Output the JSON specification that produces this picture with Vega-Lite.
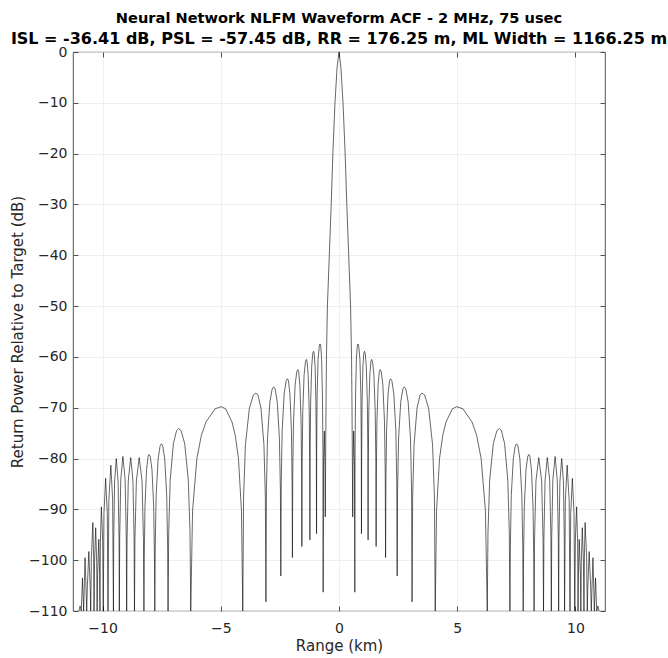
{
  "$schema": "https://vega.github.io/schema/vega-lite/v6.json",
  "width": 532,
  "height": 559,
  "autosize": {"type": "none"},
  "padding": {"left": 73, "top": 52, "right": 63, "bottom": 47},
  "background": "white",
  "title": {
    "text": "Neural Network NLFM Waveform ACF - 2 MHz, 75 usec",
    "subtitle": "ISL = -36.41 dB, PSL = -57.45 dB, RR = 176.25 m, ML Width = 1166.25 m",
    "font": "DejaVu Sans",
    "fontSize": 14.6,
    "fontWeight": "bold",
    "color": "#000000",
    "subtitleFont": "DejaVu Sans",
    "subtitleFontSize": 16,
    "subtitleFontWeight": "bold",
    "subtitleColor": "#000000",
    "subtitlePadding": 5,
    "anchor": "middle",
    "offset": -2
  },
  "config": {
    "font": "DejaVu Sans",
    "view": {"stroke": "#262626", "strokeWidth": 0.8}
  },
  "data": {
    "values": [
      {"r": -11.0, "p": -110}, {"r": -10.95, "p": -109}, {"r": -10.9, "p": -110}, {"r": -10.85, "p": -103.5}, {"r": -10.8, "p": -110},
      {"r": -10.74, "p": -99.5}, {"r": -10.67, "p": -110}, {"r": -10.643, "p": -105.2}, {"r": -10.58, "p": -98.3}, {"r": -10.524, "p": -105.2},
      {"r": -10.5, "p": -110}, {"r": -10.473, "p": -99.5}, {"r": -10.41, "p": -92.6}, {"r": -10.378, "p": -99.5}, {"r": -10.36, "p": -110},
      {"r": -10.339, "p": -100.5}, {"r": -10.29, "p": -93.6}, {"r": -10.248, "p": -100.5}, {"r": -10.23, "p": -110},
      {"r": -10.209, "p": -102.8}, {"r": -10.16, "p": -95.9}, {"r": -10.125, "p": -102.8}, {"r": -10.11, "p": -110},
      {"r": -10.092, "p": -96.4}, {"r": -10.05, "p": -89.5}, {"r": -9.994, "p": -96.4}, {"r": -9.97, "p": -110},
      {"r": -9.94, "p": -90.8}, {"r": -9.87, "p": -83.9}, {"r": -9.8, "p": -90.8}, {"r": -9.77, "p": -110},
      {"r": -9.734, "p": -88.2}, {"r": -9.65, "p": -81.3}, {"r": -9.573, "p": -88.2}, {"r": -9.54, "p": -110},
      {"r": -9.528, "p": -96.1}, {"r": -9.492, "p": -84.6}, {"r": -9.42, "p": -80.0}, {"r": -9.342, "p": -84.6}, {"r": -9.303, "p": -96.1}, {"r": -9.29, "p": -110},
      {"r": -9.275, "p": -95.7}, {"r": -9.23, "p": -84.2}, {"r": -9.14, "p": -79.6}, {"r": -9.044, "p": -84.2}, {"r": -8.996, "p": -95.7}, {"r": -8.98, "p": -110},
      {"r": -8.963, "p": -95.9}, {"r": -8.912, "p": -84.4}, {"r": -8.81, "p": -79.8}, {"r": -8.714, "p": -84.4}, {"r": -8.666, "p": -95.9}, {"r": -8.65, "p": -110},
      {"r": -8.63, "p": -95.9}, {"r": -8.57, "p": -84.4}, {"r": -8.45, "p": -79.8}, {"r": -8.33, "p": -84.4}, {"r": -8.27, "p": -95.9}, {"r": -8.25, "p": -110},
      {"r": -8.237, "p": -99.7}, {"r": -8.206, "p": -89.4}, {"r": -8.14, "p": -82.2}, {"r": -8.074, "p": -79.6}, {"r": -8.03, "p": -79.2}, {"r": -7.982, "p": -79.6}, {"r": -7.91, "p": -82.2}, {"r": -7.838, "p": -89.4}, {"r": -7.804, "p": -99.7}, {"r": -7.79, "p": -110},
      {"r": -7.773, "p": -97.6}, {"r": -7.734, "p": -87.3}, {"r": -7.65, "p": -80.1}, {"r": -7.566, "p": -77.5}, {"r": -7.51, "p": -77.1}, {"r": -7.454, "p": -77.5}, {"r": -7.37, "p": -80.1}, {"r": -7.286, "p": -87.3}, {"r": -7.247, "p": -97.6}, {"r": -7.23, "p": -110},
      {"r": -7.203, "p": -94.6}, {"r": -7.14, "p": -84.3}, {"r": -7.005, "p": -77.1}, {"r": -6.87, "p": -74.5}, {"r": -6.78, "p": -74.1}, {"r": -6.678, "p": -74.5}, {"r": -6.525, "p": -77.1}, {"r": -6.372, "p": -84.3}, {"r": -6.301, "p": -94.6}, {"r": -6.27, "p": -110},
      {"r": -6.193, "p": -90.3}, {"r": -6.012, "p": -80.0}, {"r": -5.819, "p": -75.4}, {"r": -5.625, "p": -72.8}, {"r": -5.238, "p": -70.2}, {"r": -4.98, "p": -69.8}, {"r": -4.798, "p": -70.2}, {"r": -4.525, "p": -72.8}, {"r": -4.389, "p": -75.4}, {"r": -4.252, "p": -80.0}, {"r": -4.125, "p": -90.3}, {"r": -4.07, "p": -110},
      {"r": -4.036, "p": -87.6}, {"r": -3.958, "p": -77.3}, {"r": -3.79, "p": -70.1}, {"r": -3.622, "p": -67.5}, {"r": -3.51, "p": -67.1}, {"r": -3.426, "p": -67.5}, {"r": -3.3, "p": -70.1}, {"r": -3.174, "p": -77.3}, {"r": -3.115, "p": -87.6}, {"r": -3.09, "p": -108.2},
      {"r": -3.07, "p": -86.4}, {"r": -3.024, "p": -76.1}, {"r": -2.925, "p": -68.9}, {"r": -2.826, "p": -66.3}, {"r": -2.76, "p": -65.9}, {"r": -2.7, "p": -66.3}, {"r": -2.61, "p": -68.9}, {"r": -2.52, "p": -76.1}, {"r": -2.478, "p": -86.4}, {"r": -2.46, "p": -103.1},
      {"r": -2.443, "p": -84.8}, {"r": -2.404, "p": -74.5}, {"r": -2.32, "p": -67.3}, {"r": -2.236, "p": -64.7}, {"r": -2.18, "p": -64.3}, {"r": -2.138, "p": -64.7}, {"r": -2.075, "p": -67.3}, {"r": -2.012, "p": -74.5}, {"r": -1.983, "p": -84.8}, {"r": -1.97, "p": -99.5},
      {"r": -1.956, "p": -83.0}, {"r": -1.924, "p": -72.7}, {"r": -1.855, "p": -65.5}, {"r": -1.786, "p": -62.9}, {"r": -1.74, "p": -62.5}, {"r": -1.706, "p": -62.9}, {"r": -1.655, "p": -65.5}, {"r": -1.604, "p": -72.7}, {"r": -1.58, "p": -83.0}, {"r": -1.57, "p": -97.3},
      {"r": -1.559, "p": -81.0}, {"r": -1.532, "p": -70.7}, {"r": -1.475, "p": -63.5}, {"r": -1.418, "p": -60.9}, {"r": -1.38, "p": -60.5}, {"r": -1.35, "p": -60.9}, {"r": -1.305, "p": -63.5}, {"r": -1.26, "p": -70.7}, {"r": -1.239, "p": -81.0}, {"r": -1.23, "p": -96.0},
      {"r": -1.221, "p": -79.4}, {"r": -1.2, "p": -69.1}, {"r": -1.155, "p": -61.9}, {"r": -1.11, "p": -59.3}, {"r": -1.075, "p": -58.9}, {"r": -1.049, "p": -59.3}, {"r": -1.01, "p": -61.9}, {"r": -0.976, "p": -69.1}, {"r": -0.958, "p": -79.4}, {"r": -0.95, "p": -94.8},
      {"r": -0.943, "p": -78.0}, {"r": -0.926, "p": -67.7}, {"r": -0.885, "p": -60.5}, {"r": -0.835, "p": -57.9}, {"r": -0.8, "p": -57.45}, {"r": -0.77, "p": -57.9}, {"r": -0.735, "p": -60.5}, {"r": -0.7, "p": -67.7}, {"r": -0.68, "p": -78.0}, {"r": -0.67, "p": -106.3},
      {"r": -0.655, "p": -81.5}, {"r": -0.62, "p": -74.6}, {"r": -0.594, "p": -81.5}, {"r": -0.58, "p": -91.5},
      {"r": -0.565, "p": -80}, {"r": -0.55, "p": -70}, {"r": -0.53, "p": -60}, {"r": -0.49, "p": -50}, {"r": -0.41, "p": -40}, {"r": -0.33, "p": -30}, {"r": -0.26, "p": -20}, {"r": -0.17, "p": -10}, {"r": -0.08, "p": -3},
      {"r": 0, "p": 0},
      {"r": 0.08, "p": -3}, {"r": 0.17, "p": -10}, {"r": 0.26, "p": -20}, {"r": 0.33, "p": -30}, {"r": 0.41, "p": -40}, {"r": 0.49, "p": -50}, {"r": 0.53, "p": -60}, {"r": 0.55, "p": -70}, {"r": 0.565, "p": -80},
      {"r": 0.58, "p": -91.5}, {"r": 0.594, "p": -81.5}, {"r": 0.62, "p": -74.6}, {"r": 0.655, "p": -81.5},
      {"r": 0.67, "p": -106.3}, {"r": 0.68, "p": -78.0}, {"r": 0.7, "p": -67.7}, {"r": 0.735, "p": -60.5}, {"r": 0.77, "p": -57.9}, {"r": 0.8, "p": -57.45}, {"r": 0.835, "p": -57.9}, {"r": 0.885, "p": -60.5}, {"r": 0.926, "p": -67.7}, {"r": 0.943, "p": -78.0},
      {"r": 0.95, "p": -94.8}, {"r": 0.958, "p": -79.4}, {"r": 0.976, "p": -69.1}, {"r": 1.01, "p": -61.9}, {"r": 1.049, "p": -59.3}, {"r": 1.075, "p": -58.9}, {"r": 1.11, "p": -59.3}, {"r": 1.155, "p": -61.9}, {"r": 1.2, "p": -69.1}, {"r": 1.221, "p": -79.4},
      {"r": 1.23, "p": -96.0}, {"r": 1.239, "p": -81.0}, {"r": 1.26, "p": -70.7}, {"r": 1.305, "p": -63.5}, {"r": 1.35, "p": -60.9}, {"r": 1.38, "p": -60.5}, {"r": 1.418, "p": -60.9}, {"r": 1.475, "p": -63.5}, {"r": 1.532, "p": -70.7}, {"r": 1.559, "p": -81.0},
      {"r": 1.57, "p": -97.3}, {"r": 1.58, "p": -83.0}, {"r": 1.604, "p": -72.7}, {"r": 1.655, "p": -65.5}, {"r": 1.706, "p": -62.9}, {"r": 1.74, "p": -62.5}, {"r": 1.786, "p": -62.9}, {"r": 1.855, "p": -65.5}, {"r": 1.924, "p": -72.7}, {"r": 1.956, "p": -83.0},
      {"r": 1.97, "p": -99.5}, {"r": 1.983, "p": -84.8}, {"r": 2.012, "p": -74.5}, {"r": 2.075, "p": -67.3}, {"r": 2.138, "p": -64.7}, {"r": 2.18, "p": -64.3}, {"r": 2.236, "p": -64.7}, {"r": 2.32, "p": -67.3}, {"r": 2.404, "p": -74.5}, {"r": 2.443, "p": -84.8},
      {"r": 2.46, "p": -103.1}, {"r": 2.478, "p": -86.4}, {"r": 2.52, "p": -76.1}, {"r": 2.61, "p": -68.9}, {"r": 2.7, "p": -66.3}, {"r": 2.76, "p": -65.9}, {"r": 2.826, "p": -66.3}, {"r": 2.925, "p": -68.9}, {"r": 3.024, "p": -76.1}, {"r": 3.07, "p": -86.4},
      {"r": 3.09, "p": -108.2}, {"r": 3.115, "p": -87.6}, {"r": 3.174, "p": -77.3}, {"r": 3.3, "p": -70.1}, {"r": 3.426, "p": -67.5}, {"r": 3.51, "p": -67.1}, {"r": 3.622, "p": -67.5}, {"r": 3.79, "p": -70.1}, {"r": 3.958, "p": -77.3}, {"r": 4.036, "p": -87.6},
      {"r": 4.07, "p": -110}, {"r": 4.125, "p": -90.3}, {"r": 4.252, "p": -80.0}, {"r": 4.389, "p": -75.4}, {"r": 4.525, "p": -72.8}, {"r": 4.798, "p": -70.2}, {"r": 4.98, "p": -69.8}, {"r": 5.238, "p": -70.2}, {"r": 5.625, "p": -72.8}, {"r": 5.819, "p": -75.4}, {"r": 6.012, "p": -80.0}, {"r": 6.193, "p": -90.3},
      {"r": 6.27, "p": -110}, {"r": 6.301, "p": -94.6}, {"r": 6.372, "p": -84.3}, {"r": 6.525, "p": -77.1}, {"r": 6.678, "p": -74.5}, {"r": 6.78, "p": -74.1}, {"r": 6.87, "p": -74.5}, {"r": 7.005, "p": -77.1}, {"r": 7.14, "p": -84.3}, {"r": 7.203, "p": -94.6},
      {"r": 7.23, "p": -110}, {"r": 7.247, "p": -97.6}, {"r": 7.286, "p": -87.3}, {"r": 7.37, "p": -80.1}, {"r": 7.454, "p": -77.5}, {"r": 7.51, "p": -77.1}, {"r": 7.566, "p": -77.5}, {"r": 7.65, "p": -80.1}, {"r": 7.734, "p": -87.3}, {"r": 7.773, "p": -97.6},
      {"r": 7.79, "p": -110}, {"r": 7.804, "p": -99.7}, {"r": 7.838, "p": -89.4}, {"r": 7.91, "p": -82.2}, {"r": 7.982, "p": -79.6}, {"r": 8.03, "p": -79.2}, {"r": 8.074, "p": -79.6}, {"r": 8.14, "p": -82.2}, {"r": 8.206, "p": -89.4}, {"r": 8.237, "p": -99.7},
      {"r": 8.25, "p": -110}, {"r": 8.27, "p": -95.9}, {"r": 8.33, "p": -84.4}, {"r": 8.45, "p": -79.8}, {"r": 8.57, "p": -84.4}, {"r": 8.63, "p": -95.9},
      {"r": 8.65, "p": -110}, {"r": 8.666, "p": -95.9}, {"r": 8.714, "p": -84.4}, {"r": 8.81, "p": -79.8}, {"r": 8.912, "p": -84.4}, {"r": 8.963, "p": -95.9},
      {"r": 8.98, "p": -110}, {"r": 8.996, "p": -95.7}, {"r": 9.044, "p": -84.2}, {"r": 9.14, "p": -79.6}, {"r": 9.23, "p": -84.2}, {"r": 9.275, "p": -95.7},
      {"r": 9.29, "p": -110}, {"r": 9.303, "p": -96.1}, {"r": 9.342, "p": -84.6}, {"r": 9.42, "p": -80.0}, {"r": 9.492, "p": -84.6}, {"r": 9.528, "p": -96.1},
      {"r": 9.54, "p": -110}, {"r": 9.573, "p": -88.2}, {"r": 9.65, "p": -81.3}, {"r": 9.734, "p": -88.2},
      {"r": 9.77, "p": -110}, {"r": 9.8, "p": -90.8}, {"r": 9.87, "p": -83.9}, {"r": 9.94, "p": -90.8},
      {"r": 9.97, "p": -110}, {"r": 9.994, "p": -96.4}, {"r": 10.05, "p": -89.5}, {"r": 10.092, "p": -96.4},
      {"r": 10.11, "p": -110}, {"r": 10.125, "p": -102.8}, {"r": 10.16, "p": -95.9}, {"r": 10.209, "p": -102.8},
      {"r": 10.23, "p": -110}, {"r": 10.248, "p": -100.5}, {"r": 10.29, "p": -93.6}, {"r": 10.339, "p": -100.5},
      {"r": 10.36, "p": -110}, {"r": 10.378, "p": -99.5}, {"r": 10.41, "p": -92.6}, {"r": 10.473, "p": -99.5},
      {"r": 10.5, "p": -110}, {"r": 10.524, "p": -105.2}, {"r": 10.58, "p": -98.3}, {"r": 10.643, "p": -105.2},
      {"r": 10.67, "p": -110}, {"r": 10.74, "p": -99.5}, {"r": 10.8, "p": -110}, {"r": 10.85, "p": -103.5}, {"r": 10.9, "p": -110}, {"r": 10.95, "p": -109}, {"r": 11.0, "p": -110}
    ]
  },
  "layer": [
    {
      "mark": {"type": "line", "color": "#000000", "strokeWidth": 0.6, "clip": true},
      "encoding": {
        "x": {
          "field": "r", "type": "quantitative",
          "scale": {"domain": [-11.25, 11.25], "nice": false, "zero": false},
          "axis": {
            "orient": "bottom", "values": [-10, -5, 0, 5, 10], "title": "Range (km)",
            "domain": false, "tickSize": -5, "tickColor": "#262626", "tickWidth": 0.8,
            "labelPadding": 15, "labelFontSize": 14, "labelColor": "#262626",
            "titleFontSize": 15, "titleFontWeight": "normal", "titleColor": "#262626", "titlePadding": 3,
            "grid": true, "gridColor": "#ebebeb", "gridWidth": 0.8
          }
        },
        "y": {
          "field": "p", "type": "quantitative",
          "scale": {"domain": [-110, 0], "nice": false, "zero": false},
          "axis": {
            "orient": "left", "values": [-110, -100, -90, -80, -70, -60, -50, -40, -30, -20, -10, 0],
            "title": "Return Power Relative to Target (dB)",
            "domain": false, "tickSize": -5, "tickColor": "#262626", "tickWidth": 0.8,
            "labelPadding": 11, "labelFontSize": 14, "labelColor": "#262626",
            "titleFontSize": 15, "titleFontWeight": "normal", "titleColor": "#262626", "titlePadding": 3,
            "grid": true, "gridColor": "#ebebeb", "gridWidth": 0.8
          }
        }
      }
    },
    {
      "mark": {"type": "line", "strokeOpacity": 0, "clip": true},
      "encoding": {
        "x": {
          "field": "r", "type": "quantitative",
          "axis": {"orient": "top", "values": [-10, -5, 0, 5, 10], "labels": false, "title": null, "domain": false, "grid": false, "tickSize": -5, "tickColor": "#262626", "tickWidth": 0.8}
        },
        "y": {
          "field": "p", "type": "quantitative",
          "axis": {"orient": "right", "values": [-110, -100, -90, -80, -70, -60, -50, -40, -30, -20, -10, 0], "labels": false, "title": null, "domain": false, "grid": false, "tickSize": -5, "tickColor": "#262626", "tickWidth": 0.8}
        }
      }
    }
  ],
  "resolve": {"axis": {"x": "independent", "y": "independent"}}
}
